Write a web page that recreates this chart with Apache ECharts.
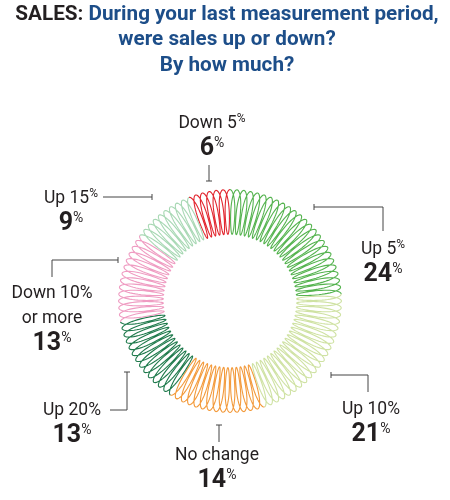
<!DOCTYPE html>
<html>
<head>
<meta charset="utf-8">
<script src="https://cdn.jsdelivr.net/npm/echarts@6/dist/echarts.min.js"></script>
<style>
  html, body { margin: 0; padding: 0; background: #fff; }
  #chart { width: 450px; height: 500px; }
</style>
</head>
<body>
<div id="chart"></div>
<script>
// data, clockwise from the top
const categories = ['Down 5%', 'Up 5%', 'Up 10%', 'No change', 'Up 20%', 'Down 10%\nor more', 'Up 15%'];
const shares = [6, 24, 21, 14, 13, 13, 9];
const colors = ['#e2262f', '#55b34f', '#cfe2a3', '#f39a3b', '#1f7a4c', '#ef9cc2', '#a8d8b4'];

// label layout: text centre + leader line (kept apart from the data)
const labelPos = [
  { x: 212, y: 111, sup: true,  line: [[209, 165], [209, 181]], tick: 'h' },
  { x: 383, y: 237, sup: true,  line: [[383, 231], [383, 207], [314, 207]], tick: 'v' },
  { x: 371, y: 397, sup: false, line: [[368, 392], [368, 375], [331, 375]], tick: 'v' },
  { x: 217, y: 443, sup: false, line: [[219, 442], [219, 425]], tick: 'h' },
  { x: 72,  y: 398, sup: false, line: [[110, 410], [127, 410], [127, 372]], tick: 'h' },
  { x: 52,  y: 281, sup: false, line: [[52, 277], [52, 260], [118, 260]], tick: 'v' },
  { x: 71,  y: 186, sup: true,  line: [[103, 197], [152, 197]], tick: 'v' }
];

const chart = echarts.init(document.getElementById('chart'));

// segments as [start, end] on a 0..100 angle axis
let acc = 0;
const segData = shares.map((v, i) => {
  const item = { name: categories[i], value: [0, acc, acc + v], itemStyle: { color: colors[i] } };
  acc += v;
  return item;
});

const loopsPer = 1;     // one loop per percent
const rMid = 0.795, rAmp = 0.2, sideAmp = 0.62;

function renderCoil(params, api) {
  const a0 = api.value(1), a1 = api.value(2);
  const pts = [];
  const steps = Math.ceil((a1 - a0) / loopsPer * 48);
  for (let k = 0; k <= steps; k++) {
    const v = a0 + (a1 - a0) * k / steps;
    const phi = 2 * Math.PI * v / loopsPer;
    const r = rMid + rAmp * Math.cos(phi);
    const ang = v + sideAmp * Math.sin(phi);
    pts.push(api.coord([r, ang]));
  }
  return {
    type: 'polyline',
    shape: { points: pts },
    style: { stroke: api.visual('color'), fill: null, lineWidth: 1.1 }
  };
}

const graphics = [];
graphics.push({
  type: 'text', x: 227, y: 2,
  style: {
    text: '{k|SALES:} {q|During your last measurement period,}\n{q|were sales up or down?}\n{q|By how much?}',
    align: 'center', textAlign: 'center',
    font: 'bold 20.7px Roboto',
    rich: {
      k: { fill: '#231f20', fontFamily: 'Roboto', fontWeight: 'bold', fontSize: 20.7, lineHeight: 25.5 },
      q: { fill: '#1d4e89', fontFamily: 'Roboto', fontWeight: 'bold', fontSize: 20.7, lineHeight: 25.5 }
    }
  }
});

categories.forEach((c, i) => {
  const p = labelPos[i];
  let name;
  if (p.sup) {
    name = '{n|' + c.replace('%', '') + '}{s|%}';
  } else {
    name = c.split('\n').map(s => '{n|' + s + '}').join('\n');
  }
  graphics.push({
    type: 'text', x: p.x, y: p.y,
    style: {
      text: name + '\n{b|' + shares[i] + '}{bs|%}',
      align: 'center', textAlign: 'center',
      rich: {
        n: { fill: '#231f20', fontFamily: 'Roboto', fontSize: 17.5, lineHeight: 25 },
        s: { fill: '#231f20', fontFamily: 'Roboto', fontSize: 12, lineHeight: 25, verticalAlign: 'top', padding: [2, 0, 0, 0] },
        b: { fill: '#231f20', fontFamily: 'Roboto', fontWeight: 'bold', fontSize: 25, lineHeight: 26 },
        bs: { fill: '#231f20', fontFamily: 'Roboto', fontSize: 14, lineHeight: 26, verticalAlign: 'top', padding: [0, 0, 0, 0] }
      }
    }
  });
  graphics.push({
    type: 'polyline',
    shape: { points: p.line },
    style: { stroke: '#444', lineWidth: 1, fill: null }
  });
  const e = p.line[p.line.length - 1];
  const tk = p.tick === 'v' ? [[e[0], e[1] - 3], [e[0], e[1] + 3]] : [[e[0] - 3, e[1]], [e[0] + 3, e[1]]];
  graphics.push({
    type: 'polyline',
    shape: { points: tk },
    style: { stroke: '#444', lineWidth: 1, fill: null }
  });
});

chart.setOption({
  animation: false,
  polar: { center: [230, 301], radius: 112 },
  angleAxis: { type: 'value', min: 0, max: 100, startAngle: 90 + shares[0] * 3.6, clockwise: true, show: false },
  radiusAxis: { type: 'value', min: 0, max: 1, show: false },
  series: [{
    type: 'custom',
    coordinateSystem: 'polar',
    renderItem: renderCoil,
    data: segData,
    clip: false
  }],
  graphic: graphics
});
</script>
</body>
</html>
